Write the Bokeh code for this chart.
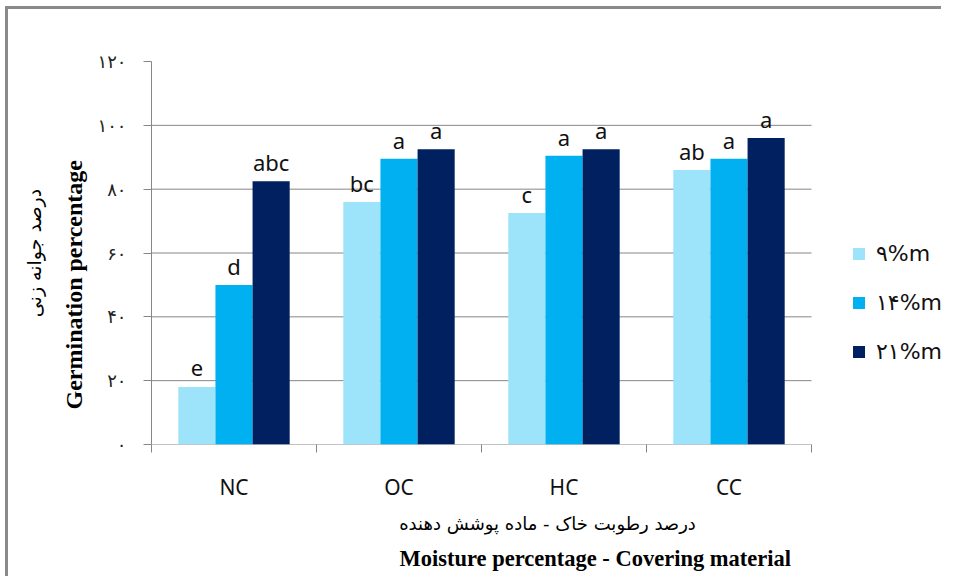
from bokeh.plotting import figure
from bokeh.models import (ColumnDataSource, Range1d, LinearAxis, Title,
                          FixedTicker, Legend, LegendItem)
from bokeh.transform import dodge
from bokeh.core.properties import value
from bokeh.embed import file_html
from bokeh.resources import INLINE

# ---- data ----
categories = ["NC", "OC", "HC", "CC"]
m9 = [18, 76, 72.5, 86]
m14 = [50, 89.5, 90.5, 89.5]
m21 = [82.5, 92.5, 92.5, 96]
letters9 = ["e", "bc", "c", "ab"]
letters14 = ["d", "a", "a", "a"]
letters21 = ["abc", "a", "a", "a"]
series_names = ["۹%m", "۱۴%m", "۲۱%m"]
y_ticks = [0, 20, 40, 60, 80, 100, 120]
y_tick_labels = ["۰", "۲۰", "۴۰", "۶۰", "۸۰", "۱۰۰", "۱۲۰"]
grid_values = [0, 20, 40, 60, 80, 100]
y_title_fa = "درصد جوانه زنی"
y_title_en = "Germination percentage"
x_title_fa = "درصد رطوبت خاک - ماده پوشش دهنده"
x_title_en = "Moisture percentage - Covering material"

colors = ["#9de4fb", "#00b0f0", "#002060"]
GRAY = "#868686"

n = len(categories)
pos = [i + 0.5 for i in range(n)]          # category centres on a numeric scale
bounds = list(range(n + 1))                 # category boundaries

src = ColumnDataSource(dict(pos=pos, m9=m9, m14=m14, m21=m21,
                            l9=letters9, l14=letters14, l21=letters21))

p = figure(x_range=Range1d(0, 4.8), y_range=Range1d(0, 120),
           width=936, height=570,
           output_backend="svg", toolbar_location=None,
           x_axis_location=None, y_axis_location="left",
           min_border_left=143, min_border_right=1,
           min_border_top=52, min_border_bottom=135)
p.outline_line_color = None
p.xgrid.visible = False
p.ygrid.visible = False
p.styles = {"margin-left": "5px", "margin-top": "6px",
            "border-left": "3px solid #8a8a8a", "border-top": "3px solid #8a8a8a"}

# horizontal gridlines (and category baseline), only across the categories
p.segment(x0=[bounds[0]] * len(grid_values), x1=[bounds[-1]] * len(grid_values),
          y0=grid_values, y1=grid_values, line_color=GRAY, line_width=1)

# y axis
ya = p.yaxis[0]
ya.ticker = FixedTicker(ticks=y_ticks)
ya.major_label_overrides = {t: l for t, l in zip(y_ticks, y_tick_labels)}
ya.major_label_text_font = "DejaVu Sans"
ya.major_label_text_font_size = "18px"
ya.major_label_text_color = "#222222"
ya.major_label_standoff = 17
ya.axis_line_color = GRAY
ya.major_tick_line_color = GRAY
ya.major_tick_out = 8
ya.major_tick_in = 0
ya.minor_tick_line_color = None

p.add_layout(Title(text=y_title_en, align="left", offset=35, standoff=16,
                   text_font="Liberation Serif", text_font_style="bold",
                   text_font_size="24px", text_color="black"), "left")
p.add_layout(Title(text=y_title_fa, align="center", offset=-12, standoff=12,
                   text_font="DejaVu Sans", text_font_style="normal",
                   text_font_size="19px", text_color="black"), "left")

# x axis: labels at centres, ticks at boundaries
xa = LinearAxis(ticker=FixedTicker(ticks=pos, minor_ticks=bounds),
                major_label_overrides={c: s for c, s in zip(pos, categories)},
                major_label_text_font="Noto Sans", major_label_text_font_size="21px",
                major_label_text_color="#111111", major_label_standoff=20,
                major_tick_line_color=None, major_tick_out=8, major_tick_in=0,
                minor_tick_line_color=GRAY, minor_tick_out=8, minor_tick_in=0,
                axis_line_color=None,
                axis_label=x_title_fa, axis_label_text_font="DejaVu Sans",
                axis_label_text_font_size="18px", axis_label_text_font_style="normal",
                axis_label_text_color="black", axis_label_standoff=9)
p.add_layout(xa, "below")

p.add_layout(Title(text=x_title_en, align="left", offset=248, standoff=14,
                   text_font="Liberation Serif", text_font_style="bold",
                   text_font_size="22.5px", text_color="black"), "below")

# bars
W = 0.225
offs = [-W, 0.0, W]
cols = ["m9", "m14", "m21"]
lcols = ["l9", "l14", "l21"]
rends = []
for off, c, col, lc in zip(offs, cols, colors, lcols):
    r = p.vbar(x=dodge("pos", off), top=c, width=W, source=src,
               fill_color=col, line_color=None)
    rends.append(r)
    p.text(x=dodge("pos", off), y=c, text=lc, source=src,
           text_align="center", text_baseline="alphabetic", y_offset=-19,
           text_font=value("Noto Sans"), text_font_size="22px", text_color="#111111")

legend = Legend(items=[LegendItem(label=s, renderers=[r]) for s, r in zip(series_names, rends)],
                location=(700, 80), padding=0, margin=0, border_line_color=None,
                background_fill_alpha=0, glyph_width=15, glyph_height=15,
                label_height=21, spacing=24, label_standoff=10,
                label_text_font="DejaVu Sans", label_text_font_size="22px",
                label_text_color="#111111")
p.add_layout(legend, "center")

open("out.html", "w").write(file_html(p, INLINE))
